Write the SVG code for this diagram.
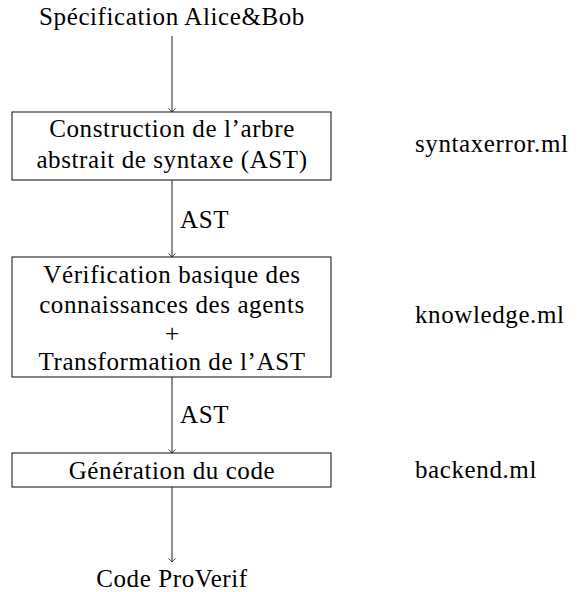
<svg xmlns="http://www.w3.org/2000/svg" width="578" height="592" viewBox="0 0 578 592">
<style>
text{font-family:"Liberation Serif","DejaVu Serif",serif;font-size:25px;letter-spacing:0.6px;fill:#000}
.c{text-anchor:middle}
.plus{font-size:26px;letter-spacing:0}
.box{fill:#fff;stroke:#222;stroke-width:1.1}
.edge{fill:none;stroke:#333;stroke-width:1.1}
</style>
<defs>
<marker id="to" viewBox="-5 -5 6 10" markerWidth="6" markerHeight="10" refX="0" refY="0" orient="auto" markerUnits="userSpaceOnUse">
<path d="M-3.6,-3.4 Q-0.8,-0.8 0,0 Q-0.8,0.8 -3.6,3.4" fill="none" stroke="#333" stroke-width="1"/>
</marker>
</defs>
<rect width="578" height="592" fill="#fff"/>
<g id="connectors">
<line class="edge" x1="172" y1="36" x2="172" y2="112" marker-end="url(#to)"/>
<line class="edge" x1="172" y1="180" x2="172" y2="257" marker-end="url(#to)"/>
<line class="edge" x1="172" y1="377" x2="172" y2="453" marker-end="url(#to)"/>
<line class="edge" x1="172" y1="487" x2="172" y2="562" marker-end="url(#to)"/>
<text x="180" y="228">AST</text>
<text x="180" y="423">AST</text>
</g>
<g id="start"><text class="c" x="172" y="25">Spécification Alice&amp;Bob</text></g>
<g id="ast-build">
<rect class="box" x="12" y="112" width="319" height="68"/>
<text class="c" x="172" y="137">Construction de l’arbre</text>
<text class="c" x="172" y="168">abstrait de syntaxe (AST)</text>
</g>
<g id="knowledge">
<rect class="box" x="12" y="257" width="319" height="120"/>
<text class="c" x="172" y="283">Vérification basique des</text>
<text class="c" x="172" y="313">connaissances des agents</text>
<text class="c plus" x="172" y="341.5">+</text>
<text class="c" x="172" y="369.5">Transformation de l’AST</text>
</g>
<g id="codegen">
<rect class="box" x="12" y="453" width="319" height="34"/>
<text class="c" x="172" y="479">Génération du code</text>
</g>
<g id="end"><text class="c" x="172" y="587">Code ProVerif</text></g>
<g id="files">
<text x="415" y="152">syntaxerror.ml</text>
<text x="415" y="323">knowledge.ml</text>
<text x="415" y="478">backend.ml</text>
</g>
</svg>
